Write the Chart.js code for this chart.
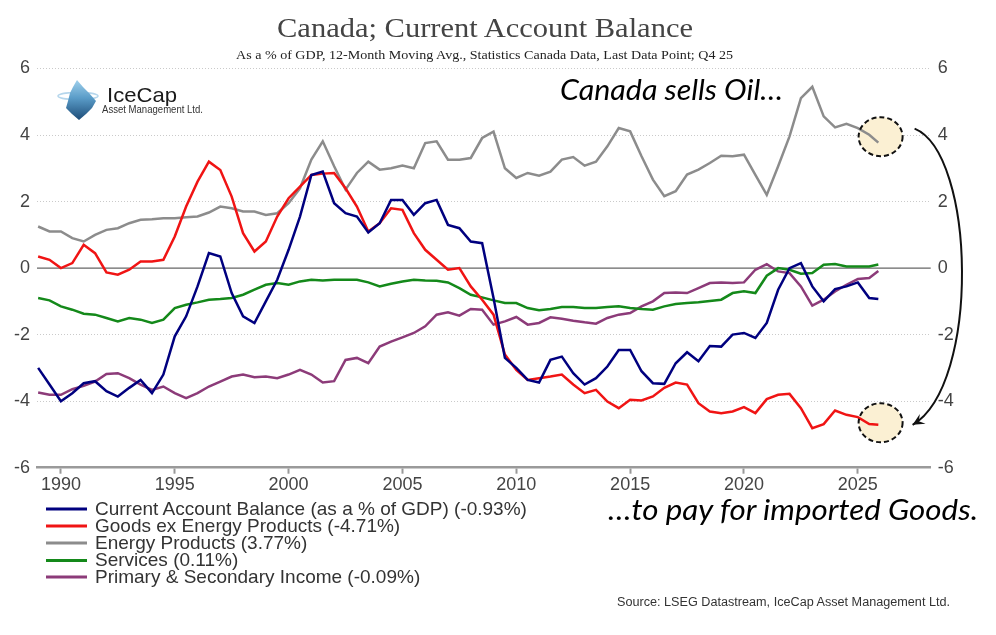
<!DOCTYPE html>
<html><head><meta charset="utf-8">
<script src="https://cdn.jsdelivr.net/npm/chart.js@4.4.1/dist/chart.umd.min.js"></script>
<style>
html,body{margin:0;padding:0;background:#fff;}
#wrap{position:relative;width:996px;height:635px;overflow:hidden;}
#c{position:absolute;left:0;top:0;width:996px;height:635px;}
#ov{position:absolute;left:0;top:0;pointer-events:none;}
</style></head><body>
<div id="wrap">
<canvas id="c" width="996" height="635"></canvas>
<svg id="ov" width="996" height="635" xmlns="http://www.w3.org/2000/svg">
  <defs>
    <linearGradient id="ice" x1="0" y1="0" x2="0" y2="1">
      <stop offset="0" stop-color="#9fd0ec"/>
      <stop offset="0.45" stop-color="#5a9cc8"/>
      <stop offset="1" stop-color="#1d4c78"/>
    </linearGradient>
  </defs>
  <text x="485" y="37" text-anchor="middle" font-family="Liberation Serif, serif" font-size="28" fill="#444" textLength="416" lengthAdjust="spacingAndGlyphs">Canada; Current Account Balance</text>
  <text x="236" y="59" font-family="Liberation Serif, serif" font-size="12.5" fill="#222" textLength="497" lengthAdjust="spacingAndGlyphs">As a % of GDP, 12-Month Moving Avg., Statistics Canada Data, Last Data Point; Q4 25</text>
  <!-- logo -->
  <ellipse cx="78" cy="96" rx="20" ry="3.5" fill="none" stroke="#b5d6ec" stroke-width="1.5"/>
  <polygon points="77,80 83,87 89,93 96,101 92,108 86,114 79,120 72,114 66,108 68,101 70,93 73,87" fill="url(#ice)"/>
  <text x="107" y="102" font-family="Liberation Sans, Arial, sans-serif" font-size="21" fill="#1a1a1a" textLength="70" lengthAdjust="spacingAndGlyphs">IceCap</text>
  <text x="102" y="113" font-family="Liberation Sans, Arial, sans-serif" font-size="10.5" fill="#333" textLength="101" lengthAdjust="spacingAndGlyphs">Asset Management Ltd.</text>
  <!-- annotations -->
  <text x="560" y="100" font-family="Lato, 'Open Sans', sans-serif" font-style="italic" font-size="29" fill="#000" textLength="223" lengthAdjust="spacingAndGlyphs">Canada sells Oil…</text>
  <text x="608" y="520" font-family="Lato, 'Open Sans', sans-serif" font-style="italic" font-size="29" fill="#000" textLength="370" lengthAdjust="spacingAndGlyphs">…to pay for imported Goods.</text>
  <text x="617" y="606" font-family="'Liberation Sans Narrow', 'Liberation Sans', sans-serif" font-size="12" fill="#333" textLength="333" lengthAdjust="spacingAndGlyphs">Source: LSEG Datastream, IceCap Asset Management Ltd.</text>
  <g id="legend"></g>
</svg>
</div>
<script>
// ---- data ----
const years = [1989,1989.5,1990,1990.5,1991,1991.5,1992,1992.5,1993,1993.5,
 1994,1994.5,1995,1995.5,1996,1996.5,1997,1997.5,1998,1998.5,
 1999,1999.5,2000,2000.5,2001,2001.5,2002,2002.5,2003,2003.5,
 2004,2004.5,2005,2005.5,2006,2006.5,2007,2007.5,2008,2008.5,
 2009,2009.5,2010,2010.5,2011,2011.5,2012,2012.5,2013,2013.5,
 2014,2014.5,2015,2015.5,2016,2016.5,2017,2017.5,2018,2018.5,
 2019,2019.5,2020,2020.5,2021,2021.5,2022,2022.5,2023,2023.5,
 2024,2024.5,2025,2025.5,2025.9];

const currentAccount = [-3.0,-3.5,-4.0,-3.76,-3.46,-3.4,-3.7,-3.86,-3.6,-3.36,
 -3.76,-3.2,-2.05,-1.45,-0.55,0.45,0.35,-0.75,-1.45,-1.65,
 -1.0,-0.35,0.55,1.55,2.8,2.9,1.95,1.65,1.55,1.07,
 1.35,2.05,2.05,1.6,1.95,2.05,1.3,1.2,0.8,0.75,
 -0.9,-2.7,-3.0,-3.36,-3.44,-2.76,-2.66,-3.16,-3.5,-3.31,
 -2.96,-2.46,-2.46,-3.1,-3.46,-3.48,-2.86,-2.53,-2.8,-2.34,
 -2.36,-2.0,-1.95,-2.1,-1.65,-0.65,0.0,0.15,-0.55,-1.0,
 -0.63,-0.55,-0.43,-0.9,-0.93];

const goodsExEnergy = [0.35,0.25,0.0,0.15,0.7,0.45,-0.13,-0.2,-0.05,0.2,
 0.2,0.25,0.95,1.85,2.6,3.2,2.95,2.15,1.05,0.5,
 0.8,1.55,2.1,2.45,2.8,2.84,2.86,2.4,1.85,1.1,
 1.35,1.8,1.75,1.05,0.55,0.25,-0.05,0.0,-0.55,-0.95,
 -1.4,-2.6,-3.06,-3.36,-3.31,-3.26,-3.2,-3.5,-3.76,-3.66,
 -4.01,-4.21,-3.96,-3.98,-3.86,-3.6,-3.44,-3.5,-4.06,-4.31,
 -4.36,-4.31,-4.18,-4.36,-3.94,-3.81,-3.78,-4.21,-4.81,-4.69,
 -4.28,-4.41,-4.48,-4.69,-4.71];

const energyProducts = [1.25,1.1,1.1,0.9,0.8,1.0,1.15,1.2,1.35,1.45,
 1.47,1.5,1.5,1.53,1.55,1.67,1.85,1.8,1.7,1.7,
 1.6,1.65,1.95,2.4,3.26,3.81,3.06,2.36,2.86,3.2,
 2.96,3.0,3.08,3.0,3.76,3.81,3.26,3.26,3.31,3.91,
 4.1,3.0,2.71,2.86,2.78,2.9,3.26,3.34,3.08,3.2,
 3.66,4.21,4.11,3.36,2.66,2.16,2.31,2.81,2.96,3.16,
 3.38,3.36,3.41,2.8,2.2,3.06,3.96,5.11,5.45,4.56,
 4.23,4.34,4.21,4.01,3.77];

const services = [-0.9,-0.97,-1.15,-1.25,-1.37,-1.4,-1.5,-1.6,-1.5,-1.55,
 -1.65,-1.55,-1.2,-1.1,-1.03,-0.95,-0.93,-0.9,-0.8,-0.65,
 -0.5,-0.45,-0.5,-0.4,-0.35,-0.37,-0.35,-0.35,-0.35,-0.43,
 -0.55,-0.47,-0.4,-0.35,-0.37,-0.38,-0.43,-0.6,-0.8,-0.88,
 -0.97,-1.05,-1.05,-1.2,-1.27,-1.23,-1.17,-1.17,-1.2,-1.2,
 -1.17,-1.15,-1.2,-1.23,-1.25,-1.15,-1.08,-1.05,-1.03,-0.99,
 -0.95,-0.75,-0.7,-0.75,-0.23,0.0,-0.05,-0.17,-0.15,0.1,
 0.12,0.05,0.05,0.05,0.11];

const primarySecondary = [-3.74,-3.81,-3.81,-3.64,-3.54,-3.41,-3.18,-3.16,-3.31,-3.5,
 -3.66,-3.56,-3.76,-3.91,-3.76,-3.56,-3.41,-3.26,-3.2,-3.28,
 -3.26,-3.31,-3.2,-3.06,-3.2,-3.44,-3.4,-2.76,-2.7,-2.86,
 -2.36,-2.21,-2.08,-1.95,-1.75,-1.4,-1.33,-1.43,-1.23,-1.25,
 -1.7,-1.6,-1.47,-1.7,-1.65,-1.48,-1.52,-1.58,-1.63,-1.67,
 -1.5,-1.4,-1.35,-1.15,-1.0,-0.75,-0.73,-0.75,-0.6,-0.45,
 -0.43,-0.45,-0.43,-0.05,0.12,-0.1,-0.15,-0.55,-1.13,-0.95,
 -0.7,-0.5,-0.33,-0.3,-0.09];

const seriesNames = [
  'Current Account Balance (as a % of GDP) (-0.93%)',
  'Goods ex Energy Products (-4.71%)',
  'Energy Products (3.77%)',
  'Services (0.11%)',
  'Primary & Secondary Income (-0.09%)'
];
const xTicks = [1990,1995,2000,2005,2010,2015,2020,2025];
const yTicks = [-6,-4,-2,0,2,4,6];

// ---- styling ----
const colors = ['#00007f','#f01414','#8c8c8c','#14891a','#8c3b79'];
const seriesValues = [currentAccount, goodsExEnergy, energyProducts, services, primarySecondary];

const datasets = seriesValues.map((vals, k) => ({
  label: seriesNames[k],
  data: years.map((yr, i) => ({x: yr, y: vals[i]})),
  borderColor: colors[k],
  backgroundColor: colors[k],
  borderWidth: 2.5,
  pointRadius: 0,
  tension: 0,
  fill: false
}));

// legend as SVG text
(function(){
  const g = document.getElementById('legend');
  const NS = 'http://www.w3.org/2000/svg';
  const rowY = [509, 526, 543, 560.5, 577];
  seriesNames.forEach((name, k) => {
    const ln = document.createElementNS(NS, 'line');
    ln.setAttribute('x1', 46); ln.setAttribute('x2', 87);
    ln.setAttribute('y1', rowY[k]); ln.setAttribute('y2', rowY[k]);
    ln.setAttribute('stroke', colors[k]); ln.setAttribute('stroke-width', 3);
    g.appendChild(ln);
    const t = document.createElementNS(NS, 'text');
    t.setAttribute('x', 95); t.setAttribute('y', rowY[k] + 5.5);
    t.setAttribute('font-family', 'Liberation Sans, Arial, sans-serif');
    t.setAttribute('font-size', 19);
    t.setAttribute('fill', '#333');
    t.textContent = name;
    g.appendChild(t);
  });
})();

const tickFont = {family: 'Liberation Sans, Arial, sans-serif', size: 18};

const annot = {
  id: 'annot',
  beforeDatasetsDraw(chart) {
    const {ctx, chartArea: a, scales: {x, y}} = chart;
    const y0 = y.getPixelForValue(0);
    ctx.save();
    ctx.strokeStyle = '#666';
    ctx.lineWidth = 1.2;
    ctx.beginPath(); ctx.moveTo(a.left, y0); ctx.lineTo(a.right, y0); ctx.stroke();
    const spots = [[2026.0, 3.95], [2026.0, -4.65]];
    chart._spots = spots.map(([vx, vy]) => ({cx: x.getPixelForValue(vx), cy: y.getPixelForValue(vy)}));
    chart._spots.forEach(s => {
      ctx.beginPath();
      ctx.ellipse(s.cx, s.cy, 22, 19.5, 0, 0, Math.PI * 2);
      ctx.fillStyle = '#fbf0d3';
      ctx.fill();
    });
    ctx.restore();
  },
  afterDatasetsDraw(chart) {
    const {ctx} = chart;
    const [t, b] = chart._spots;
    ctx.save();
    ctx.strokeStyle = '#111';
    ctx.lineWidth = 2;
    ctx.setLineDash([5, 3]);
    [t, b].forEach(s => { ctx.beginPath(); ctx.ellipse(s.cx, s.cy, 22, 19.5, 0, 0, Math.PI * 2); ctx.stroke(); });
    ctx.setLineDash([]);
    const p1 = {x: t.cx + 34, y: t.cy - 8};
    const p2 = {x: b.cx + 32, y: b.cy + 2};
    const c1 = {x: p1.x + 61, y: p1.y + 25};
    const c2 = {x: p1.x + 66, y: p2.y - 40};
    ctx.beginPath(); ctx.moveTo(p1.x, p1.y);
    ctx.bezierCurveTo(c1.x, c1.y, c2.x, c2.y, p2.x, p2.y);
    ctx.stroke();
    const ang = Math.atan2(p2.y - c2.y, p2.x - c2.x);
    const L = 13, W = 0.45;
    ctx.beginPath();
    ctx.moveTo(p2.x, p2.y);
    ctx.lineTo(p2.x - L * Math.cos(ang - W), p2.y - L * Math.sin(ang - W));
    ctx.lineTo(p2.x - 0.55 * L * Math.cos(ang), p2.y - 0.55 * L * Math.sin(ang));
    ctx.lineTo(p2.x - L * Math.cos(ang + W), p2.y - L * Math.sin(ang + W));
    ctx.closePath();
    ctx.fillStyle = '#111';
    ctx.fill();
    ctx.restore();
  }
};

new Chart(document.getElementById('c'), {
  type: 'line',
  data: {datasets},
  options: {
    responsive: false,
    animation: false,
    layout: {padding: {top: 68.5, left: 0, right: 0, bottom: 0}},
    plugins: {legend: {display: false}, tooltip: {enabled: false}, title: {display: false}},
    scales: {
      x: {
        type: 'linear', min: 1988.95, max: 2028.2,
        afterBuildTicks: s => { s.ticks = xTicks.map(v => ({value: v})); },
        afterFit: s => { s.height = 167.3; },
        ticks: {callback: v => String(v), font: tickFont, color: '#444', padding: 1, maxRotation: 0, autoSkip: false},
        grid: {display: true, drawOnChartArea: false, drawTicks: true, tickLength: 6, tickColor: '#999', tickWidth: 2},
        border: {display: true, color: '#9a9a9a', width: 2.5}
      },
      y: {
        position: 'left', min: -6, max: 6,
        afterBuildTicks: s => { s.ticks = yTicks.map(v => ({value: v})); },
        afterFit: s => { s.width = 37; },
        ticks: {callback: v => String(v), font: tickFont, color: '#444', padding: 7},
        grid: {color: c => (c.tick && c.tick.value === 0) ? 'rgba(0,0,0,0)' : '#cacaca', lineWidth: 1, drawTicks: false},
        border: {display: false, dash: [1, 2]}
      },
      y2: {
        position: 'right', min: -6, max: 6,
        afterBuildTicks: s => { s.ticks = yTicks.map(v => ({value: v})); },
        afterFit: s => { s.width = 65.3; },
        ticks: {callback: v => String(v), font: tickFont, color: '#444', padding: 7},
        grid: {display: false, drawTicks: false},
        border: {display: false}
      }
    }
  },
  plugins: [annot]
});
</script>
</body></html>
